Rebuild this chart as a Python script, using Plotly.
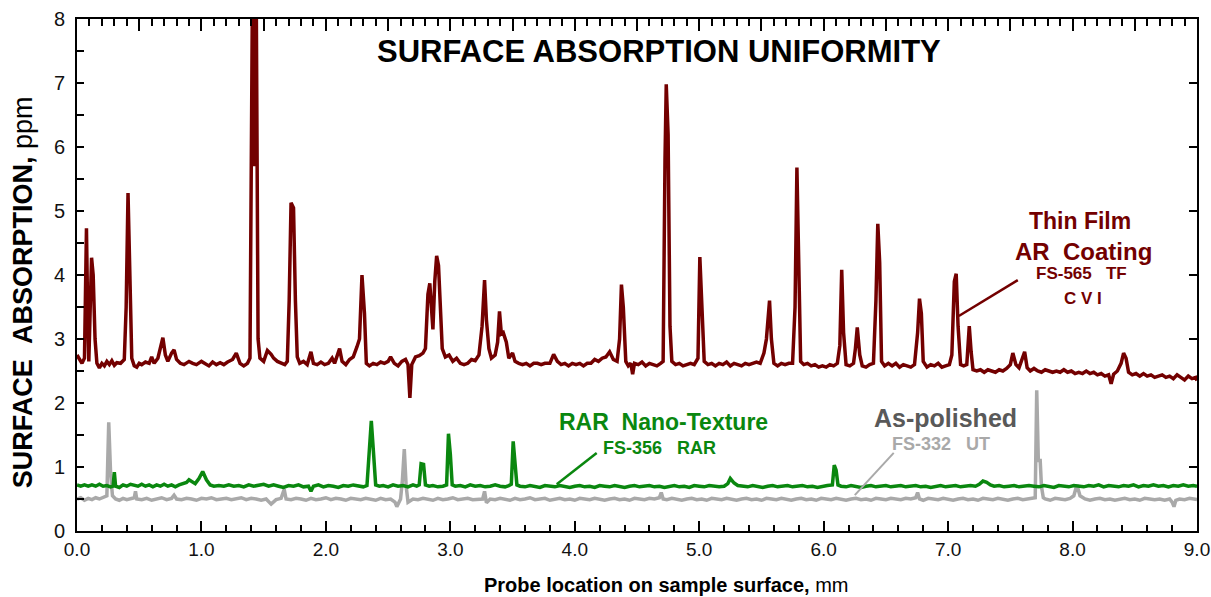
import plotly.graph_objects as go

# ---------------- data ----------------
tf_x = [0.00, 0.02, 0.04, 0.06, 0.07, 0.076, 0.085, 0.095, 0.105, 0.117,
        0.13, 0.145, 0.16, 0.18, 0.20, 0.22, 0.24, 0.26, 0.28, 0.30,
        0.32, 0.35, 0.38, 0.395, 0.41, 0.425, 0.44, 0.46, 0.48, 0.50,
        0.52, 0.55, 0.58, 0.60, 0.62, 0.65, 0.69, 0.71, 0.73, 0.76,
        0.78, 0.80, 0.83, 0.86, 0.90, 0.93, 0.96, 1.00, 1.03, 1.06,
        1.09, 1.12, 1.15, 1.18, 1.21, 1.25, 1.28, 1.31, 1.34, 1.37,
        1.39, 1.41, 1.425, 1.44, 1.455, 1.47, 1.50, 1.53, 1.56, 1.58,
        1.61, 1.64, 1.67, 1.69, 1.705, 1.72, 1.74, 1.755, 1.77, 1.79,
        1.82, 1.85, 1.88, 1.90, 1.93, 1.96, 1.99, 2.02, 2.05, 2.07,
        2.09, 2.11, 2.13, 2.16, 2.19, 2.22, 2.25, 2.27, 2.29, 2.31,
        2.325, 2.35, 2.38, 2.41, 2.44, 2.47, 2.50, 2.52, 2.55, 2.58,
        2.61, 2.64, 2.66, 2.675, 2.69, 2.72, 2.75, 2.78, 2.80, 2.82,
        2.835, 2.85, 2.86, 2.875, 2.89, 2.905, 2.92, 2.935, 2.96, 2.99,
        3.02, 3.05, 3.08, 3.11, 3.14, 3.17, 3.20, 3.23, 3.255, 3.275,
        3.29, 3.31, 3.33, 3.36, 3.38, 3.395, 3.41, 3.425, 3.45, 3.47,
        3.50, 3.52, 3.55, 3.58, 3.61, 3.64, 3.67, 3.70, 3.73, 3.76,
        3.80, 3.83, 3.86, 3.89, 3.92, 3.95, 3.98, 4.01, 4.04, 4.07,
        4.10, 4.13, 4.16, 4.19, 4.22, 4.25, 4.28, 4.31, 4.34, 4.36,
        4.375, 4.39, 4.41, 4.43, 4.45, 4.465, 4.48, 4.51, 4.54, 4.57,
        4.60, 4.63, 4.66, 4.69, 4.71, 4.725, 4.735, 4.75, 4.765, 4.78,
        4.81, 4.84, 4.87, 4.90, 4.93, 4.96, 4.99, 5.005, 5.02, 5.04,
        5.07, 5.10, 5.13, 5.16, 5.19, 5.22, 5.25, 5.28, 5.31, 5.34,
        5.37, 5.40, 5.43, 5.46, 5.49, 5.52, 5.54, 5.565, 5.58, 5.60,
        5.63, 5.66, 5.69, 5.72, 5.75, 5.77, 5.785, 5.80, 5.815, 5.84,
        5.87, 5.90, 5.93, 5.96, 5.99, 6.02, 6.05, 6.08, 6.11, 6.13,
        6.145, 6.16, 6.18, 6.21, 6.24, 6.255, 6.27, 6.29, 6.31, 6.34,
        6.37, 6.40, 6.42, 6.435, 6.45, 6.465, 6.49, 6.52, 6.55, 6.58,
        6.61, 6.64, 6.67, 6.70, 6.73, 6.755, 6.77, 6.785, 6.80, 6.83,
        6.86, 6.89, 6.92, 6.95, 6.98, 7.01, 7.03, 7.05, 7.065, 7.08,
        7.10, 7.125, 7.15, 7.17, 7.185, 7.20, 7.23, 7.26, 7.29, 7.32,
        7.35, 7.38, 7.41, 7.44, 7.47, 7.50, 7.52, 7.545, 7.57, 7.60,
        7.615, 7.635, 7.66, 7.69, 7.72, 7.75, 7.78, 7.81, 7.84, 7.87,
        7.90, 7.93, 7.96, 7.99, 8.02, 8.05, 8.08, 8.11, 8.14, 8.17,
        8.20, 8.23, 8.26, 8.29, 8.31, 8.33, 8.36, 8.39, 8.41, 8.43,
        8.45, 8.48, 8.51, 8.54, 8.57, 8.60, 8.63, 8.66, 8.69, 8.72,
        8.75, 8.78, 8.81, 8.84, 8.87, 8.90, 8.93, 8.96, 8.99, 9.00]
tf_y = [2.75, 2.68, 2.62, 2.70, 3.60, 4.73, 3.50, 2.65, 3.40, 4.27,
        4.00, 3.00, 2.62, 2.55, 2.62, 2.58, 2.65, 2.60, 2.66, 2.59,
        2.63, 2.62, 2.68, 3.50, 5.28, 3.60, 2.70, 2.58, 2.56, 2.62,
        2.60, 2.64, 2.62, 2.72, 2.62, 2.70, 3.02, 2.75, 2.65, 2.78,
        2.83, 2.68, 2.62, 2.60, 2.65, 2.62, 2.60, 2.65, 2.62, 2.58,
        2.64, 2.60, 2.63, 2.60, 2.64, 2.68, 2.78, 2.62, 2.58, 2.62,
        2.70, 8.50, 5.70, 8.50, 3.00, 2.70, 2.65, 2.82, 2.76, 2.70,
        2.65, 2.62, 2.60, 2.65, 3.60, 5.13, 5.05, 3.60, 2.72, 2.62,
        2.65, 2.60, 2.80, 2.62, 2.60, 2.64, 2.60, 2.62, 2.70, 2.62,
        2.72, 2.85, 2.65, 2.60, 2.68, 2.72, 2.88, 3.00, 4.00, 3.40,
        2.62, 2.58, 2.62, 2.60, 2.64, 2.62, 2.65, 2.72, 2.62, 2.58,
        2.65, 2.68, 2.60, 2.08, 2.60, 2.72, 2.74, 2.78, 2.85, 3.70,
        3.87, 3.40, 3.15, 3.90, 4.30, 4.15, 3.40, 2.85, 2.72, 2.75,
        2.65, 2.70, 2.62, 2.60, 2.62, 2.68, 2.66, 2.75, 3.20, 3.92,
        3.30, 2.85, 2.70, 2.75, 2.95, 3.43, 3.08, 3.10, 2.95, 2.70,
        2.78, 2.65, 2.62, 2.60, 2.62, 2.58, 2.62, 2.62, 2.60, 2.62,
        2.62, 2.76, 2.65, 2.60, 2.62, 2.58, 2.62, 2.60, 2.62, 2.58,
        2.62, 2.62, 2.68, 2.65, 2.70, 2.72, 2.80, 2.68, 2.65, 3.00,
        3.85, 3.50, 2.65, 2.58, 2.62, 2.45, 2.62, 2.60, 2.64, 2.58,
        2.62, 2.60, 2.58, 2.62, 2.65, 5.80, 6.98, 6.20, 3.20, 2.65,
        2.60, 2.62, 2.58, 2.60, 2.62, 2.60, 2.70, 4.28, 3.50, 2.65,
        2.60, 2.62, 2.58, 2.62, 2.60, 2.64, 2.58, 2.62, 2.60, 2.58,
        2.62, 2.60, 2.62, 2.64, 2.62, 2.78, 3.00, 3.60, 3.00, 2.62,
        2.58, 2.62, 2.60, 2.62, 2.62, 3.50, 5.68, 3.80, 2.65, 2.60,
        2.62, 2.58, 2.60, 2.56, 2.58, 2.56, 2.60, 2.58, 2.62, 2.90,
        4.08, 3.10, 2.60, 2.58, 2.62, 2.85, 3.18, 2.75, 2.58, 2.56,
        2.60, 2.62, 3.60, 4.80, 4.20, 2.65, 2.58, 2.62, 2.58, 2.62,
        2.56, 2.60, 2.58, 2.56, 2.60, 3.10, 3.63, 3.40, 2.65, 2.56,
        2.60, 2.58, 2.62, 2.56, 2.58, 2.60, 2.75, 3.90, 4.02, 3.20,
        2.60, 2.58, 2.60, 3.20, 2.80, 2.52, 2.50, 2.52, 2.48, 2.52,
        2.50, 2.48, 2.52, 2.50, 2.54, 2.60, 2.78, 2.60, 2.55, 2.72,
        2.80, 2.55, 2.50, 2.54, 2.50, 2.48, 2.52, 2.50, 2.48, 2.50,
        2.48, 2.52, 2.48, 2.50, 2.46, 2.48, 2.46, 2.50, 2.46, 2.48,
        2.44, 2.46, 2.42, 2.44, 2.30, 2.45, 2.50, 2.62, 2.78, 2.70,
        2.48, 2.44, 2.46, 2.42, 2.46, 2.42, 2.44, 2.40, 2.42, 2.44,
        2.40, 2.42, 2.38, 2.44, 2.40, 2.36, 2.42, 2.38, 2.40, 2.35]

rar_x = [0.00, 0.03, 0.06, 0.09, 0.12, 0.15, 0.18, 0.21, 0.24, 0.27,
         0.29, 0.30, 0.31, 0.34, 0.37, 0.40, 0.43, 0.46, 0.49, 0.52,
         0.55, 0.58, 0.61, 0.64, 0.67, 0.70, 0.73, 0.76, 0.79, 0.82,
         0.85, 0.88, 0.90, 0.92, 0.95, 0.98, 1.01, 1.04, 1.07, 1.10,
         1.14, 1.18, 1.22, 1.26, 1.30, 1.34, 1.38, 1.42, 1.46, 1.50,
         1.54, 1.58, 1.62, 1.66, 1.70, 1.74, 1.78, 1.82, 1.86, 1.88,
         1.90, 1.94, 1.98, 2.02, 2.06, 2.10, 2.14, 2.18, 2.22, 2.26,
         2.30, 2.33, 2.35, 2.365, 2.38, 2.40, 2.43, 2.46, 2.50, 2.54,
         2.58, 2.62, 2.66, 2.70, 2.73, 2.75, 2.765, 2.785, 2.80, 2.83,
         2.86, 2.90, 2.94, 2.97, 2.985, 3.00, 3.015, 3.04, 3.08, 3.12,
         3.16, 3.20, 3.24, 3.28, 3.32, 3.36, 3.40, 3.44, 3.47, 3.49,
         3.505, 3.52, 3.535, 3.56, 3.60, 3.64, 3.68, 3.72, 3.76, 3.80,
         3.84, 3.88, 3.92, 3.96, 4.00, 4.04, 4.08, 4.12, 4.16, 4.20,
         4.24, 4.28, 4.32, 4.36, 4.40, 4.44, 4.48, 4.52, 4.56, 4.60,
         4.64, 4.68, 4.72, 4.76, 4.80, 4.84, 4.88, 4.92, 4.96, 5.00,
         5.04, 5.08, 5.12, 5.16, 5.20, 5.23, 5.25, 5.28, 5.31, 5.35,
         5.39, 5.43, 5.47, 5.51, 5.55, 5.59, 5.63, 5.67, 5.71, 5.75,
         5.79, 5.83, 5.87, 5.91, 5.95, 5.99, 6.03, 6.07, 6.085, 6.10,
         6.115, 6.14, 6.18, 6.22, 6.26, 6.30, 6.34, 6.38, 6.42, 6.46,
         6.50, 6.54, 6.58, 6.62, 6.66, 6.70, 6.74, 6.78, 6.82, 6.86,
         6.90, 6.94, 6.98, 7.02, 7.06, 7.10, 7.14, 7.18, 7.22, 7.25,
         7.28, 7.31, 7.34, 7.37, 7.41, 7.45, 7.49, 7.53, 7.57, 7.61,
         7.65, 7.69, 7.73, 7.77, 7.81, 7.85, 7.89, 7.93, 7.97, 8.01,
         8.05, 8.09, 8.13, 8.17, 8.21, 8.25, 8.29, 8.33, 8.37, 8.41,
         8.45, 8.49, 8.53, 8.57, 8.61, 8.65, 8.69, 8.73, 8.77, 8.81,
         8.85, 8.89, 8.93, 8.97, 9.00]
rar_y = [0.72, 0.70, 0.72, 0.70, 0.72, 0.70, 0.73, 0.70, 0.71, 0.69,
         0.70, 0.92, 0.70, 0.68, 0.72, 0.70, 0.73, 0.71, 0.70, 0.73,
         0.70, 0.72, 0.69, 0.72, 0.70, 0.73, 0.70, 0.72, 0.69, 0.72,
         0.74, 0.76, 0.80, 0.77, 0.74, 0.82, 0.93, 0.80, 0.72, 0.70,
         0.71, 0.70, 0.72, 0.70, 0.71, 0.69, 0.72, 0.70, 0.71, 0.73,
         0.70, 0.72, 0.70, 0.68, 0.71, 0.70, 0.72, 0.69, 0.70, 0.62,
         0.70, 0.72, 0.69, 0.71, 0.70, 0.68, 0.71, 0.70, 0.72, 0.70,
         0.69, 0.71, 1.30, 1.72, 1.30, 0.72, 0.70, 0.71, 0.69, 0.72,
         0.70, 0.71, 0.69, 0.72, 0.70, 0.72, 1.05, 1.04, 0.72, 0.70,
         0.71, 0.69, 0.70, 0.72, 1.52, 1.20, 0.72, 0.70, 0.71, 0.69,
         0.72, 0.70, 0.71, 0.69, 0.70, 0.72, 0.70, 0.69, 0.71, 0.73,
         1.40, 1.10, 0.72, 0.70, 0.69, 0.71, 0.70, 0.68, 0.71, 0.70,
         0.69, 0.71, 0.70, 0.68, 0.70, 0.71, 0.69, 0.70, 0.68, 0.71,
         0.70, 0.69, 0.71, 0.70, 0.68, 0.70, 0.71, 0.69, 0.70, 0.71,
         0.69, 0.70, 0.68, 0.70, 0.71, 0.69, 0.70, 0.68, 0.71, 0.70,
         0.69, 0.71, 0.70, 0.69, 0.70, 0.74, 0.82, 0.75, 0.71, 0.70,
         0.69, 0.71, 0.70, 0.68, 0.70, 0.71, 0.69, 0.70, 0.71, 0.69,
         0.70, 0.71, 0.69, 0.70, 0.68, 0.70, 0.71, 0.72, 1.03, 0.95,
         0.72, 0.70, 0.69, 0.71, 0.70, 0.68, 0.70, 0.71, 0.69, 0.70,
         0.71, 0.69, 0.70, 0.71, 0.69, 0.70, 0.71, 0.69, 0.70, 0.68,
         0.70, 0.71, 0.69, 0.70, 0.71, 0.69, 0.70, 0.71, 0.70, 0.73,
         0.78, 0.76, 0.72, 0.70, 0.71, 0.69, 0.70, 0.71, 0.69, 0.70,
         0.71, 0.70, 0.69, 0.71, 0.70, 0.68, 0.71, 0.70, 0.69, 0.71,
         0.70, 0.69, 0.71, 0.70, 0.72, 0.69, 0.71, 0.70, 0.69, 0.71,
         0.70, 0.72, 0.69, 0.71, 0.70, 0.72, 0.70, 0.71, 0.69, 0.71,
         0.70, 0.72, 0.70, 0.71, 0.70]

ap_x = [0.00, 0.03, 0.06, 0.09, 0.12, 0.15, 0.18, 0.21, 0.24, 0.255,
        0.27, 0.285, 0.31, 0.34, 0.37, 0.40, 0.43, 0.46, 0.47, 0.48,
        0.52, 0.56, 0.60, 0.64, 0.68, 0.72, 0.76, 0.78, 0.80, 0.84,
        0.88, 0.92, 0.96, 1.00, 1.04, 1.08, 1.12, 1.16, 1.20, 1.24,
        1.28, 1.32, 1.36, 1.40, 1.44, 1.48, 1.52, 1.56, 1.60, 1.64,
        1.665, 1.68, 1.72, 1.76, 1.80, 1.84, 1.88, 1.92, 1.96, 2.00,
        2.04, 2.08, 2.12, 2.16, 2.20, 2.24, 2.28, 2.32, 2.36, 2.40,
        2.44, 2.48, 2.52, 2.555, 2.57, 2.60, 2.615, 2.63, 2.645, 2.66,
        2.70, 2.74, 2.78, 2.82, 2.86, 2.90, 2.94, 2.98, 3.02, 3.06,
        3.10, 3.14, 3.18, 3.22, 3.26, 3.275, 3.29, 3.32, 3.36, 3.40,
        3.44, 3.48, 3.52, 3.56, 3.60, 3.64, 3.68, 3.72, 3.76, 3.80,
        3.84, 3.88, 3.92, 3.96, 4.00, 4.04, 4.08, 4.12, 4.16, 4.20,
        4.24, 4.28, 4.32, 4.36, 4.40, 4.44, 4.48, 4.52, 4.56, 4.60,
        4.64, 4.68, 4.695, 4.71, 4.74, 4.78, 4.82, 4.86, 4.90, 4.94,
        4.98, 5.02, 5.06, 5.10, 5.14, 5.18, 5.22, 5.26, 5.30, 5.34,
        5.38, 5.42, 5.46, 5.50, 5.54, 5.58, 5.62, 5.66, 5.70, 5.74,
        5.78, 5.82, 5.86, 5.90, 5.94, 5.98, 6.02, 6.06, 6.10, 6.14,
        6.18, 6.22, 6.26, 6.30, 6.34, 6.38, 6.42, 6.46, 6.50, 6.54,
        6.58, 6.62, 6.66, 6.70, 6.74, 6.755, 6.77, 6.80, 6.84, 6.88,
        6.92, 6.96, 7.00, 7.04, 7.08, 7.12, 7.16, 7.20, 7.24, 7.28,
        7.32, 7.36, 7.40, 7.44, 7.48, 7.52, 7.56, 7.60, 7.64, 7.68,
        7.70, 7.712, 7.725, 7.74, 7.75, 7.765, 7.78, 7.82, 7.86, 7.90,
        7.94, 7.98, 8.01, 8.035, 8.06, 8.10, 8.14, 8.18, 8.22, 8.26,
        8.30, 8.34, 8.38, 8.42, 8.46, 8.50, 8.54, 8.58, 8.62, 8.66,
        8.70, 8.74, 8.78, 8.80, 8.815, 8.83, 8.86, 8.90, 8.94, 8.98,
        9.00]
ap_y = [0.50, 0.52, 0.48, 0.51, 0.49, 0.52, 0.50, 0.52, 0.55, 1.70,
        0.90, 0.55, 0.50, 0.48, 0.51, 0.49, 0.50, 0.52, 0.62, 0.50,
        0.49, 0.51, 0.48, 0.50, 0.52, 0.49, 0.51, 0.56, 0.50, 0.49,
        0.51, 0.50, 0.48, 0.51, 0.50, 0.52, 0.49, 0.50, 0.51, 0.49,
        0.50, 0.52, 0.49, 0.51, 0.50, 0.48, 0.50, 0.42, 0.49, 0.51,
        0.65, 0.50, 0.49, 0.51, 0.50, 0.48, 0.51, 0.49, 0.50, 0.52,
        0.49, 0.51, 0.50, 0.48, 0.51, 0.50, 0.49, 0.51, 0.50, 0.48,
        0.51, 0.49, 0.50, 0.45, 0.38, 0.50, 0.80, 1.28, 0.70, 0.45,
        0.50, 0.49, 0.51, 0.50, 0.48, 0.51, 0.49, 0.50, 0.52, 0.49,
        0.50, 0.51, 0.49, 0.50, 0.50, 0.62, 0.44, 0.50, 0.49, 0.51,
        0.50, 0.48, 0.51, 0.49, 0.50, 0.52, 0.49, 0.50, 0.51, 0.48,
        0.50, 0.51, 0.49, 0.50, 0.48, 0.51, 0.50, 0.49, 0.51, 0.50,
        0.48, 0.50, 0.51, 0.49, 0.50, 0.48, 0.51, 0.50, 0.49, 0.51,
        0.50, 0.52, 0.60, 0.50, 0.49, 0.51, 0.50, 0.48, 0.50, 0.51,
        0.49, 0.50, 0.48, 0.51, 0.50, 0.49, 0.51, 0.50, 0.48, 0.50,
        0.51, 0.49, 0.50, 0.48, 0.51, 0.50, 0.49, 0.51, 0.50, 0.48,
        0.50, 0.51, 0.49, 0.50, 0.48, 0.51, 0.50, 0.49, 0.51, 0.50,
        0.48, 0.50, 0.51, 0.49, 0.50, 0.48, 0.51, 0.50, 0.49, 0.51,
        0.50, 0.49, 0.51, 0.50, 0.52, 0.60, 0.50, 0.48, 0.51, 0.50,
        0.49, 0.51, 0.50, 0.48, 0.50, 0.51, 0.49, 0.50, 0.48, 0.51,
        0.50, 0.49, 0.51, 0.50, 0.48, 0.50, 0.51, 0.49, 0.50, 0.51,
        0.52, 2.20, 1.10, 1.10, 0.70, 0.52, 0.50, 0.48, 0.51, 0.50,
        0.49, 0.51, 0.55, 0.72, 0.55, 0.50, 0.48, 0.50, 0.51, 0.49,
        0.50, 0.48, 0.50, 0.51, 0.49, 0.50, 0.48, 0.51, 0.50, 0.49,
        0.50, 0.48, 0.50, 0.45, 0.38, 0.48, 0.50, 0.49, 0.51, 0.50,
        0.49]

x_ticks = [0, 1, 2, 3, 4, 5, 6, 7, 8, 9]
x_tick_text = ["0.0", "1.0", "2.0", "3.0", "4.0", "5.0", "6.0", "7.0", "8.0", "9.0"]
y_ticks = [0, 1, 2, 3, 4, 5, 6, 7, 8]

RED = "#730000"
GREEN = "#0a870f"
GREY = "#a9a9a9"
DARKGREY = "#595959"
FONT = "Liberation Sans, Arial, Helvetica, sans-serif"
NB = "\u00a0"

fig = go.Figure()
fig.add_trace(go.Scatter(x=ap_x, y=ap_y, mode="lines", line=dict(color=GREY, width=3.5),
                         name="As-polished FS-332 UT", hoverinfo="skip"))
fig.add_trace(go.Scatter(x=rar_x, y=rar_y, mode="lines", line=dict(color=GREEN, width=3.5),
                         name="RAR Nano-Texture FS-356 RAR", hoverinfo="skip"))
fig.add_trace(go.Scatter(x=tf_x, y=tf_y, mode="lines", line=dict(color=RED, width=3.5),
                         name="Thin Film AR Coating FS-565 TF CVI", hoverinfo="skip",
                         xaxis="x2", yaxis="y2"))

axis_common = dict(range=[0, 9], showline=True, linecolor="black", linewidth=2,
                   showgrid=False, zeroline=False, ticks="inside", tickcolor="black",
                   tickwidth=1.5, automargin=False)
fig.update_layout(
    width=1211, height=597,
    margin=dict(l=77, r=14, t=19, b=66),
    paper_bgcolor="white", plot_bgcolor="white",
    showlegend=False,
    font=dict(family=FONT, color="black"),
    xaxis=dict(**axis_common, tickvals=x_ticks, ticktext=x_tick_text, ticklen=10,
               tickfont=dict(size=19, family=FONT, color="#111"),
               minor=dict(dtick=0.2, ticklen=6, ticks="inside", tickcolor="black", tickwidth=1.5)),
    xaxis2=dict(**axis_common, overlaying="x", side="top", dtick=0.5, tick0=0, ticklen=12,
                showticklabels=False,
                minor=dict(dtick=0.1, ticklen=7, ticks="inside", tickcolor="black", tickwidth=1.5)),
    yaxis=dict(range=[0, 8], showline=True, linecolor="black", linewidth=2, showgrid=False,
               zeroline=False, ticks="inside", tickcolor="black", tickwidth=1.5, ticklen=7,
               tickvals=y_ticks, tickfont=dict(size=20, family=FONT, color="#111"),
               ticklabelstandoff=6, automargin=False,
               minor=dict(dtick=0.5, ticklen=7, ticks="inside", tickcolor="black", tickwidth=1.5)),
    yaxis2=dict(range=[0, 8], overlaying="y", side="right", showline=True, linecolor="black",
                linewidth=2, showgrid=False, zeroline=False, ticks="inside", tickcolor="black",
                tickwidth=1.5, ticklen=8, tickvals=y_ticks, showticklabels=False,
                automargin=False),
)

# pointer lines from labels to curves
fig.add_shape(type="line", x0=7.56, y0=3.92, x1=7.086, y1=3.36, line=dict(color=RED, width=2.5))
fig.add_shape(type="line", x0=4.176, y0=1.22, x1=3.855, y1=0.73, line=dict(color=GREEN, width=2.5))
fig.add_shape(type="line", x0=6.563, y0=1.22, x1=6.25, y1=0.56, line=dict(color=GREY, width=2))

def label(text, x, y, size, color):
    fig.add_annotation(x=x, y=y, xref="x", yref="y", text=text, showarrow=False,
                       font=dict(family=FONT, size=size, color=color),
                       xanchor="center", yanchor="middle")

label("<b>SURFACE ABSORPTION UNIFORMITY</b>", 4.675, 7.50, 31, "black")
label("<b>Thin Film</b>", 8.06, 4.84, 23, RED)
label(f"<b>AR{NB}{NB}Coating</b>", 8.09, 4.37, 24, RED)
label(f"<b>FS-565{NB}{NB}{NB}TF</b>", 8.07, 4.02, 17, RED)
label(f"<b>C{NB}V{NB}I</b>", 8.08, 3.63, 17, RED)
label(f"<b>RAR{NB}{NB}Nano-Texture</b>", 4.715, 1.70, 23, GREEN)
label(f"<b>FS-356{NB}{NB}{NB}RAR</b>", 4.683, 1.29, 18, GREEN)
label("<b>As-polished</b>", 6.98, 1.76, 25, DARKGREY)
label(f"<b>FS-332{NB}{NB}{NB}UT</b>", 6.94, 1.36, 18, GREY)

# axis titles
fig.add_annotation(x=-0.048, y=0.467, xref="paper", yref="paper",
                   text=f"<b>SURFACE{NB}{NB}ABSORPTION,</b>{NB}ppm", textangle=-90,
                   showarrow=False, font=dict(family=FONT, size=27, color="black"),
                   xanchor="center", yanchor="middle")
fig.add_annotation(x=0.526, y=-0.105, xref="paper", yref="paper",
                   text="<b>Probe location on sample surface,</b> mm",
                   showarrow=False, font=dict(family=FONT, size=20, color="black"),
                   xanchor="center", yanchor="middle")

# remove the browser's default 8px body margin so the figure fills the window exactly
fig.write_html("out.html", config={"displayModeBar": False},
               post_script="document.body.style.margin='0';document.body.style.overflow='hidden';")
